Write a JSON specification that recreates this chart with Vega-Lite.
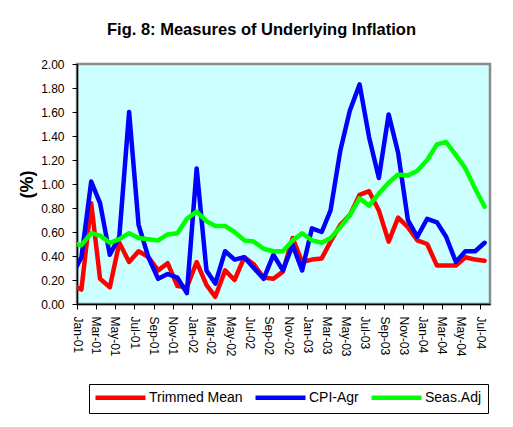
{
  "$schema": "https://vega.github.io/schema/vega-lite/v6.json",
  "width": 413,
  "height": 240,
  "autosize": {"type": "none"},
  "padding": {"left": 77, "top": 64, "right": 23, "bottom": 123},
  "background": "white",
  "title": {
    "text": "Fig. 8: Measures of Underlying Inflation",
    "anchor": "middle",
    "frame": "group",
    "dx": -22,
    "baseline": "alphabetic",
    "offset": 7,
    "fontSize": 16.5,
    "fontWeight": "bold",
    "font": "Liberation Sans",
    "color": "black"
  },
  "datasets": {
    "wide": [
      {"date": "2000/12/15", "tm": 0.16, "cpi": 0.23, "sa": 0.51},
      {"date": "2001/01/15", "tm": 0.12, "cpi": 0.39, "sa": 0.49},
      {"date": "2001/02/15", "tm": 0.84, "cpi": 1.02, "sa": 0.59},
      {"date": "2001/03/15", "tm": 0.21, "cpi": 0.84, "sa": 0.57},
      {"date": "2001/04/15", "tm": 0.14, "cpi": 0.41, "sa": 0.51},
      {"date": "2001/05/15", "tm": 0.51, "cpi": 0.56, "sa": 0.54},
      {"date": "2001/06/15", "tm": 0.35, "cpi": 1.60, "sa": 0.59},
      {"date": "2001/07/15", "tm": 0.44, "cpi": 0.66, "sa": 0.55},
      {"date": "2001/08/15", "tm": 0.39, "cpi": 0.39, "sa": 0.54},
      {"date": "2001/09/15", "tm": 0.28, "cpi": 0.21, "sa": 0.53},
      {"date": "2001/10/15", "tm": 0.34, "cpi": 0.25, "sa": 0.58},
      {"date": "2001/11/15", "tm": 0.15, "cpi": 0.22, "sa": 0.59},
      {"date": "2001/12/15", "tm": 0.14, "cpi": 0.09, "sa": 0.71},
      {"date": "2002/01/15", "tm": 0.35, "cpi": 1.13, "sa": 0.77},
      {"date": "2002/02/15", "tm": 0.16, "cpi": 0.28, "sa": 0.69},
      {"date": "2002/03/15", "tm": 0.06, "cpi": 0.17, "sa": 0.65},
      {"date": "2002/04/15", "tm": 0.28, "cpi": 0.44, "sa": 0.65},
      {"date": "2002/05/15", "tm": 0.20, "cpi": 0.37, "sa": 0.60},
      {"date": "2002/06/15", "tm": 0.39, "cpi": 0.39, "sa": 0.53},
      {"date": "2002/07/15", "tm": 0.33, "cpi": 0.30, "sa": 0.52},
      {"date": "2002/08/15", "tm": 0.22, "cpi": 0.21, "sa": 0.46},
      {"date": "2002/09/15", "tm": 0.21, "cpi": 0.41, "sa": 0.44},
      {"date": "2002/10/15", "tm": 0.27, "cpi": 0.28, "sa": 0.44},
      {"date": "2002/11/15", "tm": 0.55, "cpi": 0.49, "sa": 0.53},
      {"date": "2002/12/15", "tm": 0.35, "cpi": 0.28, "sa": 0.59},
      {"date": "2003/01/15", "tm": 0.37, "cpi": 0.63, "sa": 0.53},
      {"date": "2003/02/15", "tm": 0.38, "cpi": 0.60, "sa": 0.51},
      {"date": "2003/03/15", "tm": 0.52, "cpi": 0.78, "sa": 0.55},
      {"date": "2003/04/15", "tm": 0.66, "cpi": 1.28, "sa": 0.64},
      {"date": "2003/05/15", "tm": 0.74, "cpi": 1.61, "sa": 0.74},
      {"date": "2003/06/15", "tm": 0.91, "cpi": 1.83, "sa": 0.88},
      {"date": "2003/07/15", "tm": 0.94, "cpi": 1.39, "sa": 0.82},
      {"date": "2003/08/15", "tm": 0.78, "cpi": 1.05, "sa": 0.92},
      {"date": "2003/09/15", "tm": 0.52, "cpi": 1.58, "sa": 1.01},
      {"date": "2003/10/15", "tm": 0.72, "cpi": 1.26, "sa": 1.08},
      {"date": "2003/11/15", "tm": 0.64, "cpi": 0.70, "sa": 1.07},
      {"date": "2003/12/15", "tm": 0.53, "cpi": 0.56, "sa": 1.11},
      {"date": "2004/01/15", "tm": 0.50, "cpi": 0.71, "sa": 1.20},
      {"date": "2004/02/15", "tm": 0.32, "cpi": 0.68, "sa": 1.33},
      {"date": "2004/03/15", "tm": 0.32, "cpi": 0.56, "sa": 1.35},
      {"date": "2004/04/15", "tm": 0.32, "cpi": 0.35, "sa": 1.24},
      {"date": "2004/05/15", "tm": 0.39, "cpi": 0.44, "sa": 1.13},
      {"date": "2004/06/15", "tm": 0.37, "cpi": 0.44, "sa": 0.96},
      {"date": "2004/07/15", "tm": 0.36, "cpi": 0.51, "sa": 0.81}
    ]
  },
  "data": {"name": "wide"},
  "transform": [
    {"fold": ["tm", "cpi", "sa"], "as": ["series", "value"]}
  ],
  "mark": {"type": "line", "strokeWidth": 4.5, "clip": true, "strokeJoin": "round", "strokeCap": "round"},
  "encoding": {
    "x": {
      "field": "date",
      "type": "temporal",
      "scale": {"domain": [{"year": 2001, "month": 1, "date": 1}, {"year": 2004, "month": 8, "date": 1}]},
      "axis": {
        "title": null,
        "format": "%b-%y",
        "labelAngle": 90,
        "labelPadding": 7,
        "tickSize": 5,
        "labelFontSize": 12,
        "values": [
          {"year": 2001, "month": 1, "date": 1}, {"year": 2001, "month": 3, "date": 1}, {"year": 2001, "month": 5, "date": 1},
          {"year": 2001, "month": 7, "date": 1}, {"year": 2001, "month": 9, "date": 1}, {"year": 2001, "month": 11, "date": 1},
          {"year": 2002, "month": 1, "date": 1}, {"year": 2002, "month": 3, "date": 1}, {"year": 2002, "month": 5, "date": 1},
          {"year": 2002, "month": 7, "date": 1}, {"year": 2002, "month": 9, "date": 1}, {"year": 2002, "month": 11, "date": 1},
          {"year": 2003, "month": 1, "date": 1}, {"year": 2003, "month": 3, "date": 1}, {"year": 2003, "month": 5, "date": 1},
          {"year": 2003, "month": 7, "date": 1}, {"year": 2003, "month": 9, "date": 1}, {"year": 2003, "month": 11, "date": 1},
          {"year": 2004, "month": 1, "date": 1}, {"year": 2004, "month": 3, "date": 1}, {"year": 2004, "month": 5, "date": 1},
          {"year": 2004, "month": 7, "date": 1}
        ]
      }
    },
    "y": {
      "field": "value",
      "type": "quantitative",
      "scale": {"domain": [0, 2], "nice": false, "zero": true},
      "axis": {
        "title": "(%)",
        "titleFontSize": 18,
        "titleFontWeight": "bold",
        "titlePadding": 4,
        "values": [0, 0.2, 0.4, 0.6, 0.8, 1.0, 1.2, 1.4, 1.6, 1.8, 2.0],
        "format": ".2f",
        "labelPadding": 8,
        "tickSize": 5,
        "labelFontSize": 12
      }
    },
    "color": {
      "field": "series",
      "type": "nominal",
      "scale": {"domain": ["tm", "cpi", "sa"], "range": ["#FF0000", "#0000FF", "#00FF00"]},
      "legend": {
        "orient": "none",
        "legendX": 12,
        "legendY": 320,
        "direction": "horizontal",
        "columns": 3,
        "title": null,
        "symbolType": "M-5,0H5",
        "symbolSize": 100,
        "symbolOffset": 18,
        "symbolStrokeWidth": 4.5,
        "labelFontSize": 14,
        "labelFont": "Liberation Sans",
        "labelColor": "black",
        "labelOffset": 21,
        "labelExpr": "datum.value === 'tm' ? 'Trimmed Mean' : datum.value === 'cpi' ? 'CPI-Agr' : 'Seas.Adj'",
        "strokeColor": "black",
        "fillColor": "white",
        "padding": 6,
        "columnPadding": 3
      }
    }
  },
  "config": {
    "font": "Liberation Sans",
    "view": {"fill": "#CCFFFF", "stroke": "#8C8C8C", "strokeWidth": 2.5},
    "axis": {
      "domainColor": "black",
      "domainWidth": 1.5,
      "tickColor": "black",
      "tickWidth": 1,
      "labelColor": "black",
      "labelFont": "Liberation Sans",
      "titleColor": "black",
      "titleFont": "Liberation Sans",
      "grid": false
    }
  }
}
